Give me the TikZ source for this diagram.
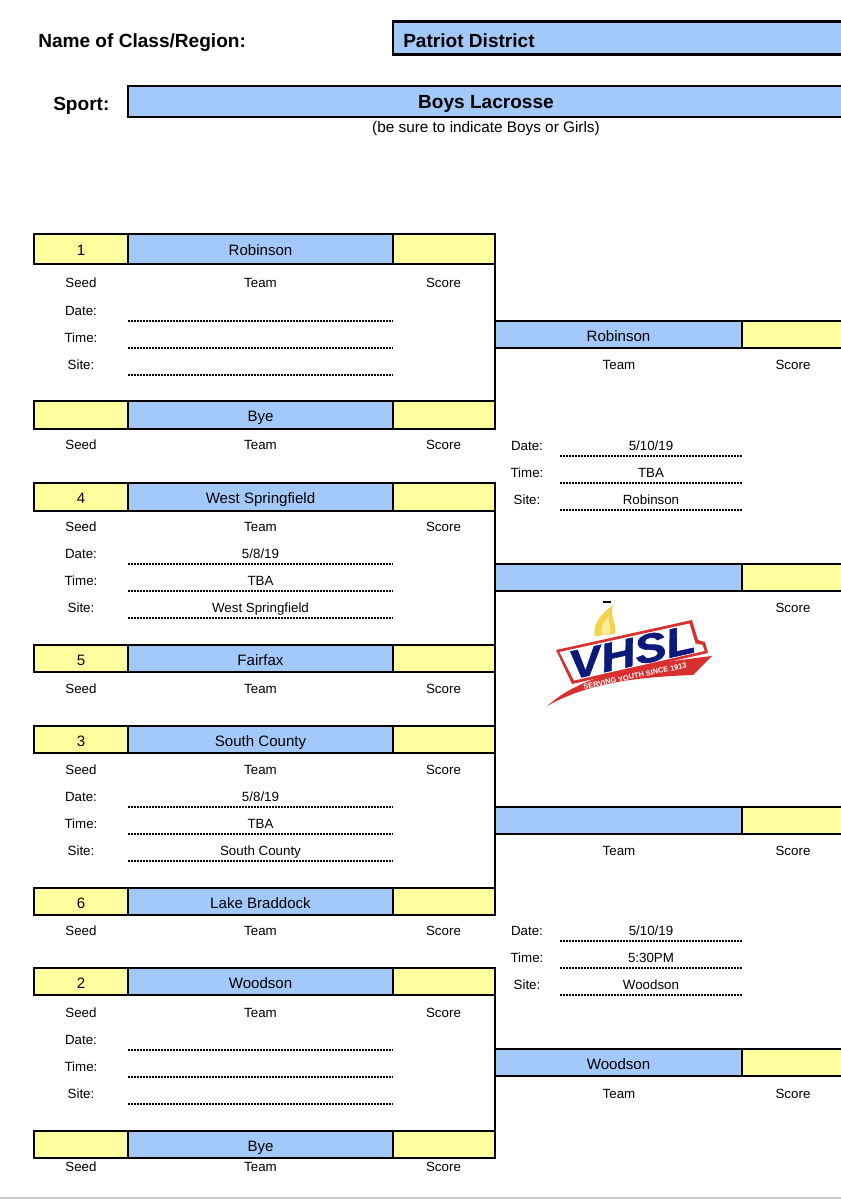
\documentclass[tikz,border=0pt]{standalone}
\usepackage{fontspec}
\setmainfont{Liberation Sans}
\newfontfamily\logofont[UprightFont={* Bold Italic}, FakeBold=1.5]{Liberation Sans}
\definecolor{teamblue}{HTML}{A3C9FB}
\definecolor{scoreyellow}{HTML}{FFFF9F}
\definecolor{logonavy}{HTML}{0B1A7A}
\definecolor{logored}{HTML}{D8302F}
\definecolor{flameouter}{HTML}{F6D24A}
\definecolor{flameinner}{HTML}{FCEB9A}
\tikzset{
  cell/.style = {draw=black, line width=1.7pt, inner sep=0pt, outer sep=0pt,
    text height=10.2pt, text depth=0pt, font=\fontsize{11.3}{13}\selectfont},
  seedcell/.style = {cell, fill=scoreyellow, minimum width=70.5pt},
  teamcell/.style = {cell, fill=teamblue, minimum width=198.75pt},
  scorecell/.style = {cell, fill=scoreyellow, minimum width=76.5pt},
  wideteam/.style = {cell, fill=teamblue, minimum width=185.25pt},
  widescore/.style = {cell, fill=scoreyellow, minimum width=76.5pt},
  caption/.style = {inner sep=0pt, text height=7.6pt, text depth=0pt, font=\fontsize{10}{12}\selectfont},
  heading/.style = {inner sep=0pt, text height=10pt, text depth=0pt, font=\fontsize{14.3}{16}\selectfont\bfseries},
  bar/.style = {line width=1.7pt, line cap=rect},
  dotline/.style = {line width=1.9pt, dash pattern=on 1.4pt off 0.85pt}
}
\begin{document}
\begin{tikzpicture}[x=0.75pt, y=-0.75pt]
    \useasboundingbox (0,0) rectangle (841,1200);
    \clip (0,0) rectangle (841,1200);
    % heading
    \node[heading, anchor=west] (classlabel) at (38,41) {Name of Class/Region:};
    \node[cell, fill=teamblue, minimum width=342pt, minimum height=24.75pt, anchor=west] (classbox) at (393,38) {};
    \node[heading, anchor=west] (classname) at (403,41) {Patriot District};
    \node[heading, anchor=west] (sportlabel) at (53,104) {Sport:};
    \node[cell, fill=teamblue, minimum width=540pt, minimum height=23.25pt, anchor=west] (sportbox) at (128,101.5) {};
    \node[heading] (sportname) at (486,102) {Boys Lacrosse};
    \node[inner sep=0pt, text height=8pt, text depth=0pt, font=\fontsize{11.5}{13}\selectfont] (sportnote) at (486,127) {(be sure to indicate Boys or Girls)};
    % first round
    \foreach \id/\ymid/\rowh/\seedtxt/\teamtxt/\ylab in {
        a/249/30/1/Robinson/282, b/415/28//Bye/444,
        c/497/28/4/West Springfield/526, d/658.5/27/5/Fairfax/688,
        e/739.5/27/3/South County/769, f/901.5/27/6/Lake Braddock/930,
        g/981.5/27/2/Woodson/1012, h/1144.5/27//Bye/1166} {
      \node[seedcell, minimum height=\rowh*0.75pt] (seed\id) at (81,\ymid) {\seedtxt};
      \node[teamcell, minimum height=\rowh*0.75pt] (team\id) at (260.5,\ymid) {\teamtxt};
      \node[scorecell, minimum height=\rowh*0.75pt] (score\id) at (444,\ymid) {};
      \node[caption] (seedcap\id) at (81,\ylab) {Seed};
      \node[caption] (teamcap\id) at (260.5,\ylab) {Team};
      \node[caption] (scorecap\id) at (443.5,\ylab) {Score};
    }
    % second round
    \foreach \id/\ymid/\teamtxt/\ylab in {
        i/334.5/Robinson/364, j/577.5//607, k/820.5//850, l/1062.5/Woodson/1093} {
      \node[wideteam, minimum height=20.25pt] (team\id) at (618.5,\ymid) {\teamtxt};
      \node[widescore, minimum height=20.25pt, anchor=west] (score\id) at (742,\ymid) {};
      \node[caption] (scorecap\id) at (793,\ylab) {Score};
    }
    \node[caption] (teamcapi) at (619,364) {Team};
    \node[caption] (teamcapk) at (619,850) {Team};
    \node[caption] (teamcapl) at (619,1093) {Team};
    % brackets
    \draw[bar] (scorea.north east) -- (scoreb.south east);
    \draw[bar] (scorec.north east) -- (scoref.south east);
    \draw[bar] (scoreg.north east) -- (scoreh.south east);
    % game details
    \foreach \id/\xlab/\xl/\xr/\ytop/\dateval/\timeval/\siteval in {
        a/81/128/393/310///, c/81/128/393/553/5\slash 8\slash 19/TBA/West Springfield,
        e/81/128/393/796/5\slash 8\slash 19/TBA/South County, g/81/128/393/1039///,
        m/527/560/742/445/5\slash 10\slash 19/TBA/Robinson,
        n/527/560/742/930/5\slash 10\slash 19/5:30PM/Woodson} {
      \foreach \fld/\off/\val in {Date/0/\dateval, Time/27/\timeval, Site/54/\siteval} {
        \node[caption] (\fld lab\id) at (\xlab,\ytop+\off) {\fld:};
        \coordinate (\fld l\id) at (\xl,\ytop+\off+11);
        \coordinate (\fld r\id) at (\xr,\ytop+\off+11);
        \draw[dotline] (\fld l\id) -- node[caption, above=3.1pt] (\fld val\id) {\val} (\fld r\id);
      }
    }
    % logo
    \fill[logored] (547,706) .. controls (575,682) and (610,668) .. (712,656) -- (693,675)
      .. controls (640,677) and (590,682) .. cycle;
    \fill[flameouter] (613,605) .. controls (604,612) and (592,622) .. (595,636) -- (615,634)
      .. controls (618,624) and (609,618) .. cycle;
    \fill[flameinner] (609,616) .. controls (603,622) and (600,628) .. (602,635) -- (610,634)
      .. controls (612,628) and (608,624) .. cycle;
    \fill[logored] (556,650) -- (692,620) -- (698,640) -- (705,642) -- (708,653) -- (572,684) -- cycle;
    \fill[white] (559.5,652) -- (689.5,623.5) -- (695.5,643.5) -- (702.5,645) -- (704.5,651) -- (574,680.5) -- cycle;
    \node[inner sep=0pt, text=logonavy, rotate=12.5, font=\fontsize{30}{32}\logofont] (vhsl)
      at (632,652) {\scalebox{1.2}[1]{VHSL}};
    \node[inner sep=0pt, text=white, rotate=12, font=\fontsize{5.6}{6}\selectfont\bfseries] (motto)
      at (635,676) {SERVING YOUTH SINCE 1913};
    \draw[black, line width=0.8pt] (603,602) -- (611,602);
    % page edge
    \draw[black!20, line width=1pt] (0,1198) -- (841,1198);
\end{tikzpicture}
\end{document}
